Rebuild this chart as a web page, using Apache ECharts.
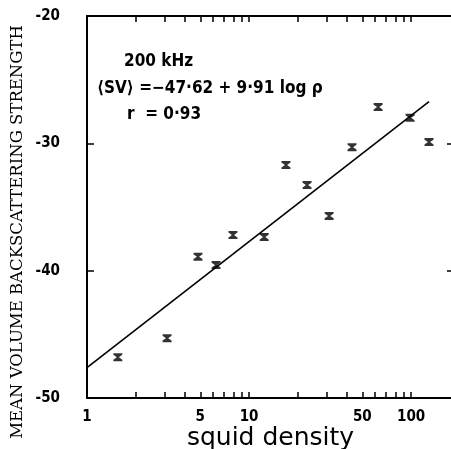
<!DOCTYPE html>
<html><head><meta charset="utf-8">
<script src="https://cdn.jsdelivr.net/npm/echarts@6/dist/echarts.min.js"></script>
<style>html,body{margin:0;padding:0;background:#fff}#c{width:451px;height:449px}</style>
</head><body><div id="c"></div>
<script>
// Data
const density = [1.55, 3.12, 4.84, 6.26, 7.96, 12.4, 16.9, 22.8, 31.2, 43.2, 62.6, 98.6, 129];
const sv = [-46.8, -45.3, -38.9, -39.56, -37.2, -37.36, -31.7, -33.28, -35.7, -30.3, -27.15, -28.0, -29.9];
// Regression line endpoints: <SV> = -47.62 + 9.91 log(rho)
const fitDensity = [1, 129];
const fitSv = [-47.62, -26.72];
// Axis ticks / labels
const xLabelValues = [1, 5, 10, 50, 100];
const xTickValues = [1, 2, 3, 4, 5, 6, 7, 8, 9, 10, 20, 30, 40, 50, 60, 70, 80, 90, 100];
const yMin = -50, yMax = -20, yStep = 10;
const annotationLines = ['200 kHz', '⟨SV⟩ =−47·62 + 9·91 log ρ', 'r  = 0·93'];
const xTitle = 'squid density';
const yTitle = 'MEAN VOLUME BACKSCATTERING STRENGTH';

const labelFont = '"Liberation Sans Narrow","DejaVu Sans Condensed","Liberation Sans",sans-serif';

function makeX(pos, showLabels) {
  return {
    type: 'log', logBase: 10, position: pos, min: 1, max: 184,
    name: showLabels ? xTitle : '', nameLocation: 'middle', nameGap: 28, nameMoveOverlap: false,
    nameTextStyle: {fontFamily: '"DejaVu Sans",sans-serif', fontSize: 25, color: '#000'},
    axisLine: {show: true, onZero: false, lineStyle: {color: '#000', width: 2}},
    axisTick: {show: true, inside: true, length: 6, customValues: xTickValues, lineStyle: {color: '#000', width: 1.5}},
    axisLabel: {show: showLabels, customValues: xLabelValues, color: '#000', fontFamily: labelFont,
      fontSize: 15, fontWeight: 'bold', margin: 12, formatter: v => String(Math.round(v))},
    splitLine: {show: false}, minorTick: {show: false}, minorSplitLine: {show: false}
  };
}
function makeY(pos, showLabels) {
  return {
    type: 'value', position: pos, min: yMin, max: yMax, interval: yStep,
    axisLine: {show: true, onZero: false, lineStyle: {color: '#000', width: 2}},
    axisTick: {show: true, inside: true, length: 7, lineStyle: {color: '#000', width: 1.5}},
    axisLabel: {show: showLabels, color: '#000', fontFamily: labelFont, fontSize: 15, fontWeight: 'bold', margin: 27},
    splitLine: {show: false}
  };
}

const chart = echarts.init(document.getElementById('c'), null, {renderer: 'canvas'});
const annoFont = 'bold 17px ' + labelFont;
chart.setOption({
  animation: false,
  backgroundColor: '#fff',
  grid: {left: 87, top: 16, width: 367, height: 382, containLabel: false, outerBoundsMode: 'none'},
  xAxis: [makeX('bottom', true), makeX('top', false)],
  yAxis: [makeY('left', true), makeY('right', false)],
  graphic: [
    {type: 'text', x: 124, y: 62, style: {text: annotationLines[0], font: annoFont, fill: '#000', verticalAlign: 'middle'}},
    {type: 'text', x: 97, y: 89, style: {text: annotationLines[1], font: annoFont, fill: '#000', verticalAlign: 'middle'}},
    {type: 'text', x: 127, y: 115, style: {text: annotationLines[2], font: annoFont, fill: '#000', verticalAlign: 'middle'}},
    {type: 'text', x: 18, y: 232, rotation: Math.PI / 2,
      style: {text: yTitle, font: '16.5px "DejaVu Serif",serif', fill: '#000', align: 'center', verticalAlign: 'middle'}}
  ],
  series: [
    {
      type: 'line', xAxisIndex: 0, yAxisIndex: 0, symbol: 'none',
      lineStyle: {color: '#000', width: 1.6},
      data: fitDensity.map((d, i) => [d, fitSv[i]])
    },
    {
      type: 'scatter', xAxisIndex: 0, yAxisIndex: 0,
      symbol: 'path://M0,0H10V2L6.2,5L10,8V10H0V8L3.8,5L0,2Z', symbolSize: [9, 8],
      itemStyle: {color: '#000'},
      data: density.map((d, i) => [d, sv[i]])
    }
  ]
});
</script>
</body></html>
